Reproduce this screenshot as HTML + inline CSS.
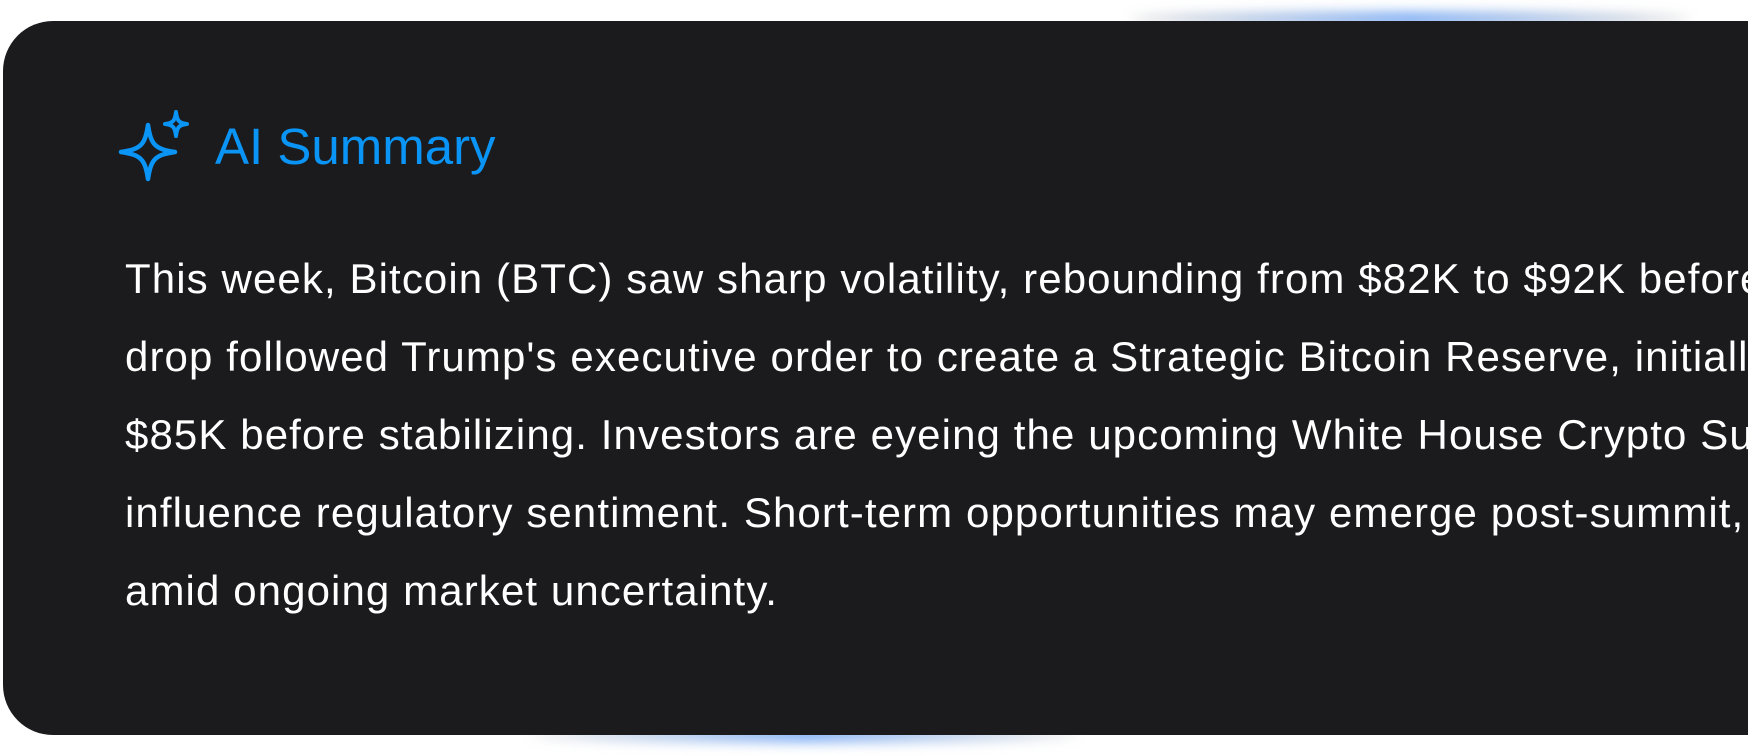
<!DOCTYPE html>
<html><head><meta charset="utf-8"><style>
html,body{margin:0;padding:0;width:1748px;height:756px;overflow:hidden;background:#fff;font-family:"Liberation Sans",sans-serif;position:relative}
.glow{position:absolute;border-radius:50%;filter:blur(6px)}
.card{position:absolute;left:3px;top:21px;width:1745px;height:714px;background:#1b1b1d;border-radius:50px 0 0 50px;overflow:hidden}
.title{position:absolute;left:212px;top:-3px;font-size:51px;color:#0a94f5;white-space:nowrap}
.body{position:absolute;left:122px;top:219px;font-size:42px;line-height:78px;color:#fff;white-space:nowrap;letter-spacing:1.1px}
</style></head><body>
<div class="glow" style="left:1130px;top:12px;width:560px;height:14px;background:linear-gradient(90deg,rgba(120,120,120,0.3),rgba(90,150,240,0.8),rgba(120,120,120,0.3))"></div>
<div class="glow" style="left:530px;top:728px;width:550px;height:14px;background:linear-gradient(90deg,rgba(120,120,120,0.2),rgba(90,150,240,0.8),rgba(120,120,120,0.2))"></div>
<div class="card">
<svg style="position:absolute;left:-3px;top:-21px" width="300" height="220">
<path d="M148 125 C151 145 155 149 175 152 C155 155 151 159 148 179 C145 159 141 155 121 152 C141 149 145 145 148 125 Z" fill="none" stroke="#0a94f5" stroke-width="4.5" stroke-linejoin="round"/>
<path d="M176 112 C177 121 179 123 187 124 C179 125 177 127 176 136 C175 127 173 125 165 124 C173 123 175 121 176 112 Z" fill="none" stroke="#0a94f5" stroke-width="4" stroke-linejoin="round"/>
</svg>
<div class="title" style="top:96px">AI Summary</div>
<div class="body">This week, Bitcoin (BTC) saw sharp volatility, rebounding from $82K to $92K before<br>drop followed Trump's executive order to create a Strategic Bitcoin Reserve, initially<br>$85K before stabilizing. Investors are eyeing the upcoming White House Crypto Summit<br>influence regulatory sentiment. Short-term opportunities may emerge post-summit, but<br>amid ongoing market uncertainty.</div>
</div>
</body></html>
